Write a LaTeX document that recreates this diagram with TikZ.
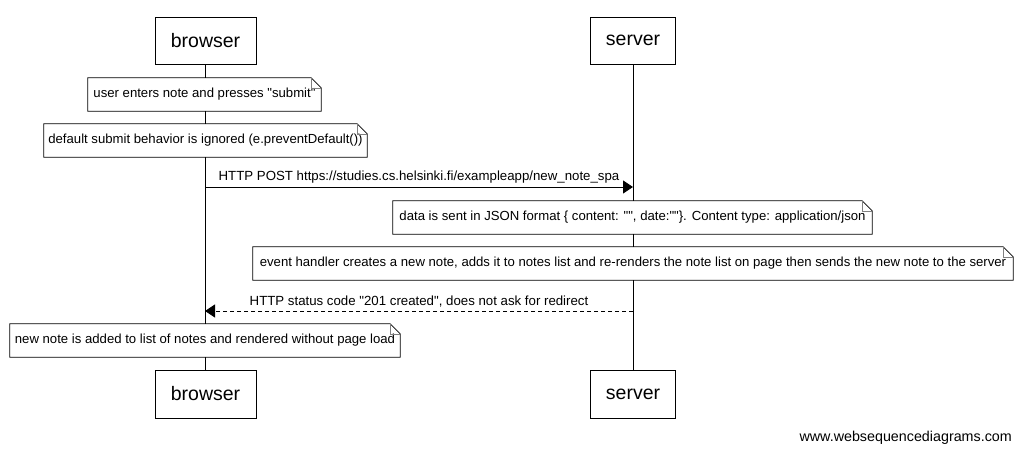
\documentclass[tikz,border=0pt]{standalone}
\usepackage{fontspec}
\setmainfont{Liberation Sans}
\usetikzlibrary{arrows.meta}
\newcommand{\dq}{\textquotedbl}
\tikzset{
  actor/.style={draw, line width=1pt, fill=white, inner sep=0pt, font=\fontsize{19.5}{22}\selectfont},
  notebox/.style={fill=white, inner sep=0pt, font=\fontsize{13.15}{15}\selectfont},
  lifeline/.style={line width=0.8pt},
  msg/.style={line width=0.8pt, -{Triangle[length=10pt,width=13pt]}},
  reply/.style={msg, dash pattern=on 4pt off 3pt},
  msglabel/.style={font=\fontsize{13.25}{15}\selectfont, inner sep=0pt, above=3pt}
}
% outline of a note with a folded top-right corner
\newcommand{\notefold}[1]{%
  \draw[line width=0.8pt] (#1.north west) -- ([xshift=-10pt]#1.north east)
    -- ([yshift=-10pt]#1.north east) -- (#1.south east) -- (#1.south west) -- cycle;
  \draw[line width=0.6pt, gray] ([xshift=-10pt]#1.north east) -- ([xshift=-10pt,yshift=-10pt]#1.north east)
    -- ([yshift=-10pt]#1.north east);
}
\begin{document}
\begin{tikzpicture}[x=1pt,y=-1pt]
\useasboundingbox[fill=white] (0,0) rectangle (1021,453);

% participants, top and bottom
\node[actor, minimum width=101pt, minimum height=47pt] (bt) at (205.5,40.5) {browser};
\node[actor, minimum width=85pt, minimum height=47pt] (st) at (633,40.5) {server};
\node[actor, minimum width=101pt, minimum height=48pt] (bb) at (205.5,394) {browser};
\node[actor, minimum width=85pt, minimum height=48pt] (sb) at (633,394) {server};

% lifelines
\draw[lifeline] (bt.south) -- (bb.north);
\draw[lifeline] (st.south) -- (sb.north);

% notes
\node[notebox, minimum width=233pt, minimum height=33pt] (n1) at (204.5,94.5) {user enters note and presses \dq submit\dq};
\notefold{n1}
\node[notebox, minimum width=323pt, minimum height=33pt] (n2) at (205.5,140.5) {default submit behavior is ignored (e.preventDefault())};
\notefold{n2}

% request
\coordinate (b1) at (205,187);
\coordinate (s1) at (633,187);
\draw[msg] (b1) -- node[msglabel] {HTTP POST https://studies.cs.helsinki.fi/exampleapp/new\_note\_spa} (s1);

\node[notebox, minimum width=479pt, minimum height=33pt] (n3) at (632.5,217.5) {data is sent in JSON format \{ content: \dq\dq, date:\dq\dq\}. Content type: application/json};
\notefold{n3}
\node[notebox, minimum width=760pt, minimum height=33pt] (n4) at (633,263.5) {event handler creates a new note, adds it to notes list and re-renders the note list on page then sends the new note to the server};
\notefold{n4}

% response
\coordinate (s2) at (633,311);
\coordinate (b2) at (205,311);
\draw[reply] (s2) -- node[msglabel] {HTTP status code \dq 201 created\dq, does not ask for redirect} (b2);

\node[notebox, minimum width=390pt, minimum height=33pt] (n5) at (205,340.5) {new note is added to list of notes and rendered without page load};
\notefold{n5}

% watermark
\node[font=\fontsize{14.3}{16}\selectfont, anchor=east, inner sep=0pt] (wm) at (1012,438) {www.websequencediagrams.com};
\end{tikzpicture}
\end{document}
